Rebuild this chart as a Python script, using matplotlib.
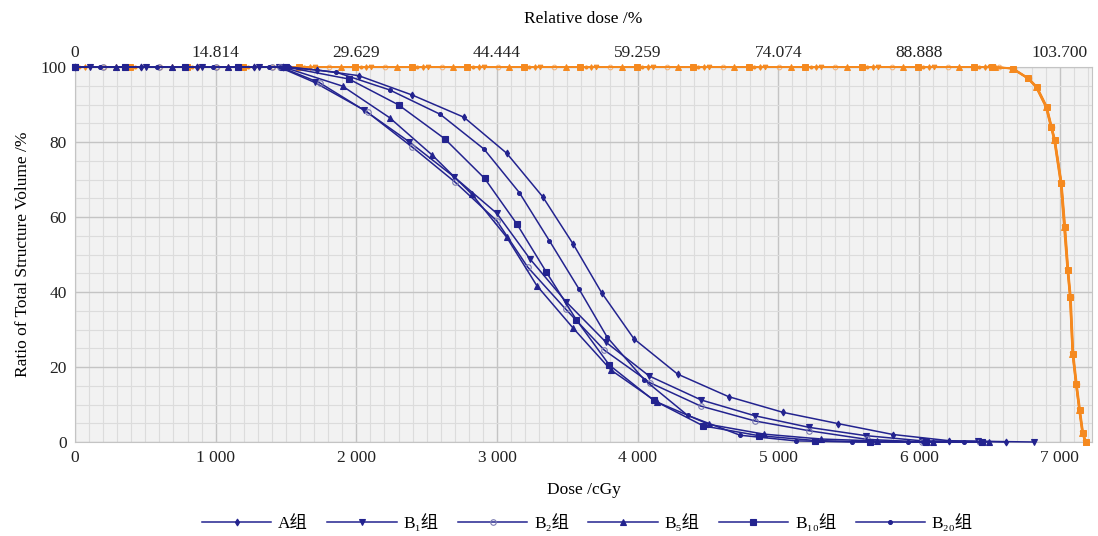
import matplotlib
matplotlib.use("Agg")
import matplotlib.pyplot as plt
from matplotlib.ticker import MultipleLocator

plt.rcParams['font.family'] = ['Liberation Serif', 'Noto Sans CJK SC', 'DejaVu Sans']

# ---- data ----
groups = ['A组', 'B₁组', 'B₂组', 'B₅组', 'B₁₀组', 'B₂₀组']

# organ-at-risk DVH curves (blue)
A_dose = [0, 470, 870, 1270, 1480, 1720, 2016, 2399, 2765, 3069, 3325, 3543, 3744, 3974, 4284, 4646, 5034, 5425, 5815, 6213, 6616]
A_vol = [100, 100, 100, 100, 100, 99.2, 97.7, 92.5, 86.6, 77.0, 65.4, 52.7, 39.8, 27.5, 18.1, 12.1, 7.9, 4.9, 2.0, 0.35, 0]
B1_dose = [0, 105, 505, 905, 1305, 1450, 1703, 2056, 2378, 2695, 2998, 3235, 3491, 3775, 4082, 4452, 4833, 5219, 5621, 6024, 6419, 6815]
B1_vol = [100, 100, 100, 100, 100, 100, 95.9, 88.5, 80.0, 70.7, 61.0, 48.8, 37.4, 26.6, 17.6, 11.2, 7.0, 3.9, 1.7, 0.3, 0.2, 0]
B2_dose = [0, 200, 600, 1000, 1400, 1460, 1739, 2080, 2399, 2702, 2998, 3219, 3489, 3763, 4088, 4447, 4835, 5219, 5631, 6024, 6431]
B2_vol = [100, 100, 100, 100, 100, 100, 95.8, 87.9, 78.6, 69.3, 59.0, 46.6, 35.4, 24.5, 15.8, 9.6, 5.6, 3.0, 0.7, 0, 0]
B5_dose = [0, 290, 690, 1090, 1480, 1902, 2236, 2537, 2821, 3069, 3283, 3543, 3810, 4135, 4506, 4897, 5300, 5700, 6100, 6500]
B5_vol = [100, 100, 100, 100, 100, 94.9, 86.5, 76.6, 66.1, 54.6, 41.7, 30.3, 19.2, 10.7, 4.7, 2.1, 0.8, 0.27, 0, 0]
B10_dose = [0, 355, 781, 1156, 1500, 1947, 2300, 2627, 2912, 3142, 3351, 3564, 3799, 4114, 4466, 4860, 5259, 5650, 6050, 6450]
B10_vol = [100, 100, 100, 100, 100, 96.8, 89.9, 80.9, 70.3, 58.1, 45.3, 32.6, 20.5, 11.1, 4.3, 1.7, 0.4, 0, 0, 0]
B20_dose = [0, 180, 580, 980, 1380, 1520, 1857, 2236, 2596, 2908, 3159, 3372, 3583, 3784, 4047, 4355, 4729, 5124, 5527, 5922, 6320]
B20_vol = [100, 100, 100, 100, 100, 100, 98.6, 93.9, 87.4, 78.1, 66.5, 53.7, 40.8, 27.9, 16.6, 7.1, 1.8, 0.3, 0, 0, 0]

# target DVH curves (orange): plateau markers then the fall-off
tA_dose = [71, 471, 871, 1271, 1671, 2071, 2471, 2871, 3271, 3671, 4071, 4471, 4871, 5271, 5671, 6071, 6471,
           6666, 6774, 6834, 6905, 6940, 6964, 7011, 7035, 7058, 7075, 7093, 7117, 7141, 7164, 7185]
tB1_dose = [106, 506, 906, 1306, 1706, 2106, 2506, 2906, 3306, 3706, 4106, 4506, 4906, 5306, 5706, 6106, 6506,
            6660, 6770, 6830, 6900, 6936, 6960, 7006, 7030, 7054, 7072, 7090, 7114, 7138, 7160, 7182]
tB2_dose = [206, 606, 1006, 1406, 1806, 2206, 2606, 3006, 3406, 3806, 4206, 4606, 5006, 5406, 5806, 6206, 6566,
            6670, 6780, 6840, 6910, 6944, 6968, 7015, 7040, 7062, 7080, 7098, 7122, 7146, 7168, 7190]
tB5_dose = [288, 688, 1088, 1488, 1888, 2288, 2688, 3088, 3488, 3888, 4288, 4688, 5088, 5488, 5888, 6288, 6540,
            6662, 6772, 6832, 6902, 6938, 6962, 7008, 7033, 7056, 7073, 7091, 7115, 7139, 7162, 7184]
tB10_dose = [393, 793, 1193, 1593, 1993, 2395, 2790, 3193, 3593, 3993, 4393, 4793, 5193, 5593, 5993, 6393, 6520,
             6668, 6776, 6836, 6907, 6942, 6966, 7013, 7037, 7060, 7077, 7095, 7119, 7143, 7166, 7187]
tB20_dose = [30, 430, 830, 1230, 1630, 2030, 2430, 2830, 3230, 3630, 4030, 4430, 4830, 5230, 5630, 6030, 6430,
             6664, 6775, 6835, 6906, 6941, 6965, 7012, 7036, 7059, 7076, 7094, 7118, 7142, 7165, 7186]
t_plateau = [100] * 17
t_fall = [99.6, 97.0, 94.7, 89.4, 84.1, 80.5, 69.0, 57.4, 45.9, 38.7, 23.6, 15.6, 8.5, 2.3, 0]

rel_ticks = [0, 1000, 2000, 3000, 4000, 5000, 6000, 7000]
rel_labels = ['0', '14.814', '29.629', '44.444', '59.259', '74.074', '88.888', '103.700']
dose_labels = ['0', '1 000', '2 000', '3 000', '4 000', '5 000', '6 000', '7 000']

blue = '#23238f'
orange = '#f5891f'
markers = ['d', 'v', 'o', '^', 's', 'o']
msizes = [3.5, 4, 4, 4.3, 4.8, 2.8]

oar = [(A_dose, A_vol), (B1_dose, B1_vol), (B2_dose, B2_vol),
       (B5_dose, B5_vol), (B10_dose, B10_vol), (B20_dose, B20_vol)]
tgt = [tA_dose, tB1_dose, tB2_dose, tB5_dose, tB10_dose, tB20_dose]

fig = plt.figure(figsize=(10.98, 5.36), dpi=100)
ax = fig.add_axes([75 / 1098, 1 - 442 / 536, 1017 / 1098, 375 / 536])
ax.set_facecolor('#f2f2f2')

# target curves first, blue on top
for i, d in enumerate(tgt):
    hollow = i == 2
    ax.plot(d, t_plateau + t_fall, color=orange, lw=1.2, marker=markers[i], ms=msizes[i] - 0.6,
            mfc='none' if hollow else orange, mec='#f7b070' if hollow else orange,
            mew=0.7, clip_on=False, zorder=3)

handles = []
for i, (d, v) in enumerate(oar):
    hollow = i == 2
    h, = ax.plot(d, v, color=blue, lw=1.1, marker=markers[i], ms=msizes[i],
                 mfc='none' if hollow else blue, mec='#7a7ab0' if hollow else blue,
                 mew=0.8, clip_on=False, zorder=4, label=groups[i])
    handles.append(h)

ax.set_xlim(0, 7230)
ax.set_ylim(0, 100)
ax.xaxis.set_major_locator(MultipleLocator(1000))
ax.xaxis.set_minor_locator(MultipleLocator(100))
ax.yaxis.set_major_locator(MultipleLocator(20))
ax.yaxis.set_minor_locator(MultipleLocator(5))
ax.set_xticks(rel_ticks)
ax.set_xticklabels(dose_labels)
ax.grid(which='major', color='#c4c4c4', lw=1.0, zorder=0)
ax.grid(which='minor', color='#dcdcdc', lw=0.8, zorder=0)
ax.set_axisbelow(True)
ax.tick_params(which='both', length=0, labelsize=12.5, colors='#222222', pad=6)
for s in ax.spines.values():
    s.set_color('#c4c4c4')

ax.set_xlabel('Dose /cGy', fontsize=12.5, labelpad=11)
ax.set_ylabel('Ratio of Total Structure Volume /%', fontsize=12.5, labelpad=7)

ax2 = ax.twiny()
ax2.set_xlim(ax.get_xlim())
ax2.set_xticks(rel_ticks)
ax2.set_xticklabels(rel_labels)
ax2.tick_params(length=0, labelsize=12.5, colors='#222222', pad=4)
for s in ax2.spines.values():
    s.set_visible(False)
ax2.set_xlabel('Relative dose /%', fontsize=12.5, labelpad=16)

fig.legend(handles=handles, loc='center', bbox_to_anchor=(0.535, 1 - 523 / 536), ncol=6,
           frameon=False, fontsize=12.5, handlelength=4.0, columnspacing=1.1, handletextpad=0.4)

fig.savefig('out.png', dpi=100)
